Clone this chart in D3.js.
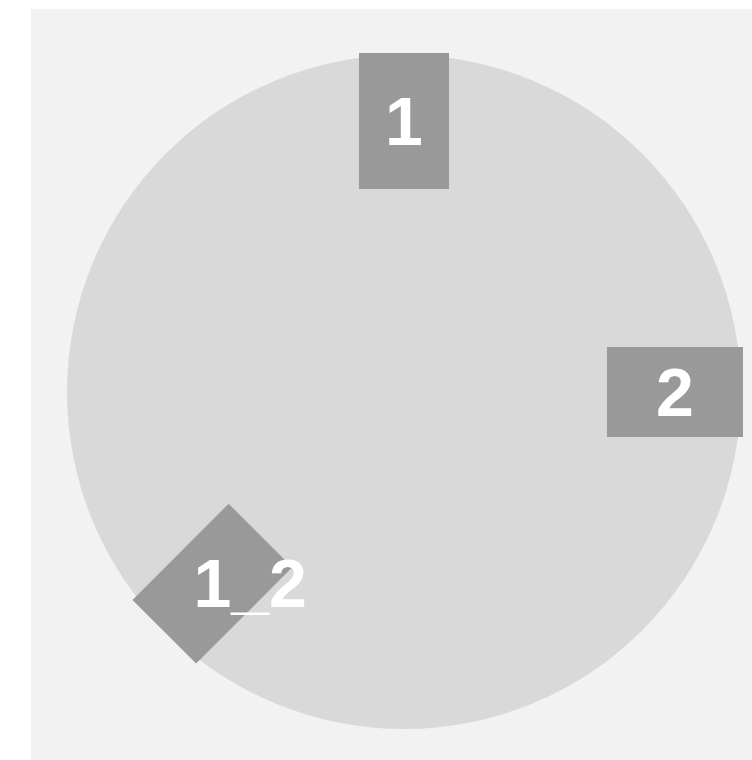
<!DOCTYPE html>
<html>
<head>
<meta charset="utf-8">
<script src="https://cdn.jsdelivr.net/npm/d3@7"></script>
<style>
  html, body { margin: 0; padding: 0; background: #fff; }
  svg { display: block; }
</style>
</head>
<body>
<div id="chart"></div>
<script>
// labels placed around the circle, angle in degrees clockwise from north
const labels = ['1', '2', '1_2'];
const angles = [0, 90, 225];

const width = 752, height = 760;
const center = { x: 404, y: 392 };
const radius = 337;
const boxLen = 136, boxThick = 90;
const fontSize = 68;

const svg = d3.select('#chart').append('svg')
    .attr('width', width)
    .attr('height', height);

svg.append('rect')
    .attr('x', 31)
    .attr('y', 9)
    .attr('width', width)
    .attr('height', height)
    .attr('fill', '#f2f2f2');

svg.append('circle')
    .attr('cx', center.x)
    .attr('cy', center.y)
    .attr('r', radius)
    .attr('fill', '#d9d9d9');

// radial distance of box centre: box sits inside, poking just past the rim
const rScale = d3.scaleLinear().domain([0, 1]).range([0, radius - boxLen / 2 + 2]);

const data = labels.map((l, i) => {
    const a = angles[i] * Math.PI / 180;
    return {
        label: l,
        angle: angles[i],
        x: center.x + rScale(1) * Math.sin(a),
        y: center.y - rScale(1) * Math.cos(a)
    };
});

const slot = svg.selectAll('.label-slot')
    .data(data)
    .enter()
    .append('g')
        .attr('class', 'label-slot');

slot.append('rect')
    .attr('x', -boxLen / 2)
    .attr('y', -boxThick / 2)
    .attr('width', boxLen)
    .attr('height', boxThick)
    .attr('fill', '#999999')
    .attr('transform', d => `translate(${d.x},${d.y}) rotate(${d.angle - 90})`);

slot.append('text')
    .text(d => d.label)
    .attr('y', d => d.y)
    .attr('dy', '0.35em')
    .style('text-anchor', 'start')
    .style('font-family', 'Liberation Sans, Arial, sans-serif')
    .style('font-weight', 'bold')
    .style('font-size', fontSize + 'px')
    .style('fill', '#fff')
    .each(function(d) {
        // start the text half a character left of the box centre
        const charW = this.getSubStringLength(0, 1);
        d3.select(this).attr('x', d.x - charW / 2);
    });
</script>
</body>
</html>
